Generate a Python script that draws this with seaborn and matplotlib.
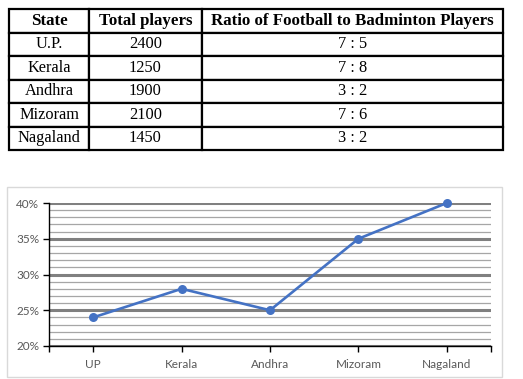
import matplotlib
matplotlib.use("Agg")
import matplotlib.pyplot as plt
import seaborn as sns
import pandas as pd
from matplotlib.patches import Rectangle
from matplotlib.ticker import MultipleLocator, FuncFormatter, FixedLocator

# ---- data ----
table_header = ["State", "Total players", "Ratio of Football to Badminton Players"]
table_states = ["U.P.", "Kerala", "Andhra", "Mizoram", "Nagaland"]
total_players = [2400, 1250, 1900, 2100, 1450]
ratios = ["7 : 5", "7 : 8", "3 : 2", "7 : 6", "3 : 2"]

chart_states = ["UP", "Kerala", "Andhra", "Mizoram", "Nagaland"]
chart_values = [24, 28, 25, 35, 40]

sns.set_theme(style="white")
plt.rcParams['font.family'] = ['Liberation Serif', 'DejaVu Serif']

W, H = 523, 379
fig = plt.figure(figsize=(W / 100, H / 100), dpi=100)
fig.patch.set_facecolor("white")

# ---- table ----
tx0, ty0, tx1, ty1 = 9, 9, 503, 150
tax = fig.add_axes([tx0 / W, 1 - ty1 / H, (tx1 - tx0) / W, (ty1 - ty0) / H])
tax.axis("off")
cell_text = [[s, str(t), r] for s, t, r in zip(table_states, total_players, ratios)]
col_w = [(89 - 9), (202 - 89), (503 - 202)]
tot = sum(col_w)
tbl = tax.table(cellText=cell_text, colLabels=table_header,
                colWidths=[c / tot for c in col_w], cellLoc="center",
                bbox=[0, 0, 1, 1])
tbl.auto_set_font_size(False)
for (r, c), cell in tbl.get_celld().items():
    cell.set_edgecolor("black")
    cell.set_linewidth(1.6)
    txt = cell.get_text()
    txt.set_color("black")
    if r == 0:
        txt.set_fontweight("bold")
        txt.set_fontsize(12.2)
    else:
        txt.set_fontsize(11.8)

# ---- chart border ----
fig.patches.append(Rectangle((7 / W, 1 - 377 / H), (502 - 7) / W, (377 - 187) / H,
                             transform=fig.transFigure, fill=False,
                             edgecolor="#d9d9d9", linewidth=1.0))

# ---- chart ----
px0, py0, px1, py1 = 49, 203, 491, 346
ax = fig.add_axes([px0 / W, 1 - py1 / H, (px1 - px0) / W, (py1 - py0) / H])
df = pd.DataFrame({"state": chart_states, "value": chart_values})
sns.lineplot(data=df, x="state", y="value", ax=ax, color="#4472C4",
             linewidth=1.9, marker="o", markersize=6.5, markeredgewidth=0,
             zorder=5, clip_on=False)
n = len(chart_states)
ax.set_xlim(-0.5, n - 0.5)
ax.set_ylim(20, 40)
ax.xaxis.set_minor_locator(FixedLocator([-0.5, n - 0.5]))
ax.yaxis.set_major_locator(MultipleLocator(5))
ax.yaxis.set_minor_locator(MultipleLocator(1))
ax.yaxis.set_major_formatter(FuncFormatter(lambda v, p: f"{int(v)}%"))
ax.grid(which="major", axis="y", color="#808080", linewidth=2.2, zorder=0)
ax.grid(which="minor", axis="y", color="#a6a6a6", linewidth=0.9, zorder=0)
ax.grid(False, axis="x")
ax.grid(False, axis="x", which="minor")
ax.set_axisbelow(True)
for s in ["top", "right"]:
    ax.spines[s].set_visible(False)
for s in ["left", "bottom"]:
    ax.spines[s].set_color("black")
    ax.spines[s].set_linewidth(1.0)
ax.set_xlabel("")
ax.set_ylabel("")
ax.tick_params(axis="both", which="major", length=4, width=1, color="black",
               direction="out", labelcolor="#595959", labelsize=8.5)
ax.tick_params(axis="x", which="minor", length=4, width=1, color="black",
               direction="out", bottom=True)
ax.tick_params(axis="y", which="minor", length=0)
ax.tick_params(axis="x", pad=5)
ax.tick_params(axis="y", pad=3)
for lab in ax.get_xticklabels() + ax.get_yticklabels():
    lab.set_family(["Lato", "DejaVu Sans"])
ax.tick_params(axis="x", bottom=True)
ax.tick_params(axis="y", left=True)

fig.savefig("out.png", dpi=100)
